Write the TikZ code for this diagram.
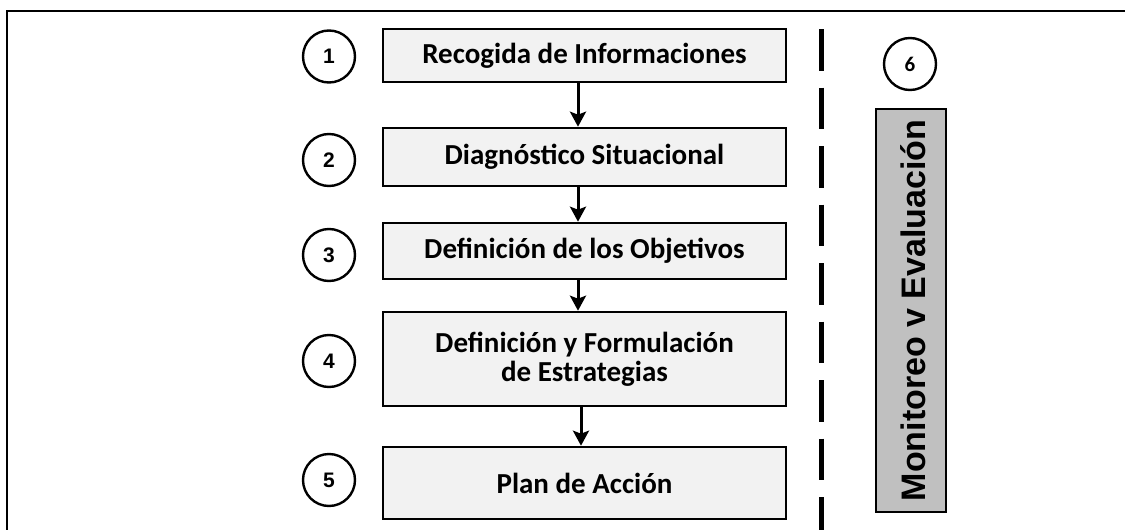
\documentclass[tikz,border=0pt]{standalone}
\usepackage{fontspec}
\setmainfont{Carlito}
\newfontfamily\arialf{Liberation Sans}
\usetikzlibrary{arrows.meta,calc}
\definecolor{boxfill}{HTML}{F2F2F2}
\definecolor{sidefill}{HTML}{C0C0C0}
\begin{document}
\begin{tikzpicture}[x=1pt,y=-1pt,
  stepbox/.style={draw=black,line width=2.6pt,fill=boxfill,minimum width=403pt,inner sep=0pt,
    font=\fontsize{29}{29}\selectfont\bfseries,align=center},
  numcirc/.style={draw=black,line width=2.4pt,circle,minimum size=52pt,inner sep=0pt,
    font=\arialf\fontsize{21}{22}\selectfont\bfseries},
  flow/.style={line width=3pt,-{Stealth[length=15pt,width=16pt,inset=3pt]}}]
\useasboundingbox (0,0) rectangle (1125,530);
\draw[line width=2.6pt] (7,531) -- (7,11) -- (1126,11);
% boxes
\node[stepbox,minimum height=53pt] (b1) at (584.5,55.5) {Recogida de Informaciones};
\node[stepbox,minimum height=58pt] (b2) at (584.5,157) {Diagnóstico Situacional};
\node[stepbox,minimum height=56pt] (b3) at (584.5,251) {Definición de los Objetivos};
\node[stepbox,minimum height=94pt] (b4) at (584.5,359) {Definición y Formulación\\de Estrategias};
\node[stepbox,minimum height=72pt] (b5) at (584.5,483) {Plan de Acción};
% arrows
\draw[flow] ($(b1.south)+(-6.5,0)$) -- ($(b2.north)+(-6.5,0)$);
\draw[flow] ($(b2.south)+(-6.5,0)$) -- ($(b3.north)+(-6.5,0)$);
\draw[flow] ($(b3.south)+(-6.5,0)$) -- ($(b4.north)+(-6.5,0)$);
\draw[flow] ($(b4.south)+(-3.5,0)$) -- ($(b5.north)+(-3.5,0)$);
% circles
\node[numcirc] (c1) at (329,56.5) {1};
\node[numcirc] (c2) at (329,160) {2};
\node[numcirc] (c3) at (329,255) {3};
\node[numcirc] (c4) at (329,361) {4};
\node[numcirc] (c5) at (329,480) {5};
\node[numcirc,font=\fontsize{21}{22}\selectfont\bfseries] (c6) at (910,64) {6};
% dashed separator
\coordinate (dtop) at (821,29);
\coordinate (dbot) at (821,531);
\draw[line width=5pt,dash pattern=on 41.5pt off 17pt] (dtop) -- (dbot);
% side box
\node[draw=black,line width=2pt,fill=sidefill,minimum width=70pt,minimum height=403pt,inner sep=0pt] (side) at (911,310.5) {};
\node[rotate=90,font=\arialf\fontsize{34}{38}\selectfont\bfseries] (sidetext) at ($(side.center)+(2,0)$) {Monitoreo v Evaluación};
\end{tikzpicture}
\end{document}
